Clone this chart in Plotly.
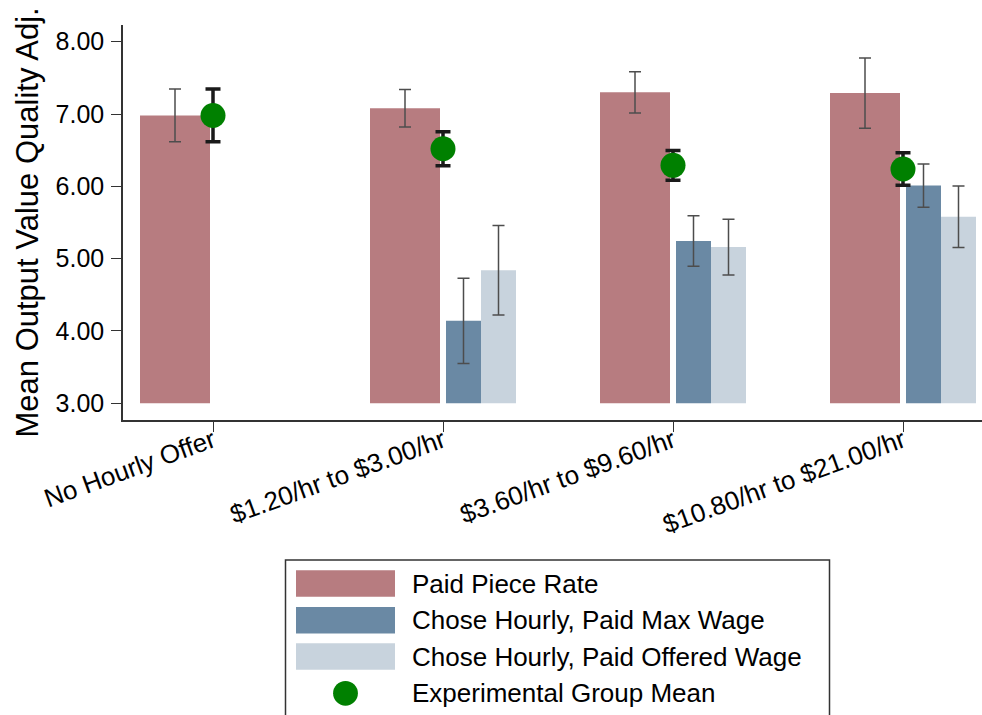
import plotly.graph_objects as go

# ---- data -------------------------------------------------------------
categories = ["No Hourly Offer", "$1.20/hr to $3.00/hr",
              "$3.60/hr to $9.60/hr", "$10.80/hr to $21.00/hr"]

piece_rate = [6.98, 7.08, 7.30, 7.29]
piece_rate_ci = [0.365, 0.26, 0.285, 0.485]

max_wage = [None, 4.14, 5.245, 6.01]
max_wage_ci = [0, 0.59, 0.35, 0.30]

offered_wage = [None, 4.84, 5.16, 5.58]
offered_wage_ci = [0, 0.62, 0.385, 0.425]

group_mean = [6.98, 6.52, 6.29, 6.24]
group_mean_ci = [0.365, 0.235, 0.205, 0.225]

y_ticks = [3, 4, 5, 6, 7, 8]

series_names = ["Paid Piece Rate", "Chose Hourly, Paid Max Wage",
                "Chose Hourly, Paid Offered Wage", "Experimental Group Mean"]

# ---- style ------------------------------------------------------------
C_PIECE = "#b77c80"
C_MAX = "#6a89a4"
C_OFFER = "#c8d3dd"
C_MEAN = "#008000"
FONT = "Liberation Sans, Arial, sans-serif"

W, H = 982, 715
ML, MR, MT, MB = 123, 0, 25, 295
PW, PH = W - ML - MR, H - MT - MB

pos = list(range(len(categories)))

# bar geometry in category units (one category step = 230 px)
STEP = 230.0
piece_w, hour_w = 70 / STEP, 35 / STEP
piece_off = -73 / STEP
max_off = 3 / STEP
offer_off = max_off + hour_w

fig = go.Figure()

bar_err = dict(type="data", thickness=1.5, width=6, color="#4d4d4d")

fig.add_trace(go.Bar(
    x=pos, y=[v - 3 for v in piece_rate], base=3,
    width=piece_w, offset=piece_off, marker=dict(color=C_PIECE, line_width=0),
    error_y=dict(array=piece_rate_ci, **bar_err), name=series_names[0],
    showlegend=False))

fig.add_trace(go.Bar(
    x=pos, y=[None if v is None else v - 3 for v in max_wage], base=3,
    width=hour_w, offset=max_off, marker=dict(color=C_MAX, line_width=0),
    error_y=dict(array=max_wage_ci, **bar_err), name=series_names[1],
    showlegend=False))

fig.add_trace(go.Bar(
    x=pos, y=[None if v is None else v - 3 for v in offered_wage], base=3,
    width=hour_w, offset=offer_off, marker=dict(color=C_OFFER, line_width=0),
    error_y=dict(array=offered_wage_ci, **bar_err), name=series_names[2],
    showlegend=False))

fig.add_trace(go.Scatter(
    x=pos, y=group_mean, mode="markers",
    marker=dict(color=C_MEAN, size=25, line_width=0),
    error_y=dict(type="data", array=group_mean_ci, thickness=3.5, width=7.5,
                 color="#1a1a1a"),
    name=series_names[3], showlegend=False))


# ---- hand-built legend box under the axes ------------------------------
def px_x(px):
    return (px - ML) / PW


def px_y(py):
    return (H - MB - py) / PH


shapes = [dict(type="rect", xref="paper", yref="paper",
               x0=px_x(285.5), x1=px_x(829.5), y0=px_y(730), y1=px_y(560),
               line=dict(color="#333333", width=1.5), fillcolor="white",
               layer="above")]
annotations = []
row_centers = [583.5, 620.3, 656.5, 693.3]
swatch_colors = [C_PIECE, C_MAX, C_OFFER]
for i, name in enumerate(series_names):
    cy = row_centers[i]
    if i < 3:
        shapes.append(dict(type="rect", xref="paper", yref="paper",
                           x0=px_x(296), x1=px_x(395),
                           y0=px_y(cy + 13.3), y1=px_y(cy - 13.3),
                           line_width=0, fillcolor=swatch_colors[i],
                           layer="above"))
    else:
        shapes.append(dict(type="circle", xref="paper", yref="paper",
                           x0=px_x(345.5 - 12.4), x1=px_x(345.5 + 12.4),
                           y0=px_y(cy + 12.4), y1=px_y(cy - 12.4),
                           line_width=0, fillcolor=C_MEAN, layer="above"))
    annotations.append(dict(text=name, xref="paper", yref="paper",
                            x=px_x(410), y=px_y(cy), xanchor="left",
                            yanchor="middle", showarrow=False,
                            font=dict(family=FONT, size=26, color="black")))

# y axis title
annotations.append(dict(text="Mean Output Value Quality Adj.", xref="paper",
                        yref="paper", x=px_x(27), y=0.5, xanchor="center",
                        yanchor="middle", textangle=-90, showarrow=False,
                        font=dict(family=FONT, size=31, color="black")))

fig.update_layout(
    width=W, height=H,
    margin=dict(l=ML, r=MR, t=MT, b=MB, pad=0),
    paper_bgcolor="white", plot_bgcolor="white",
    barmode="overlay",
    font=dict(family=FONT, color="black"),
    shapes=shapes, annotations=annotations,
    xaxis=dict(
        range=[-90 / STEP, 3 + 79 / STEP], tickmode="array",
        tickvals=pos, ticktext=categories, tickangle=-20,
        tickfont=dict(size=26, family=FONT, color="black"),
        ticklabelstandoff=-16,
        ticks="outside", ticklen=10, tickwidth=1.2, tickcolor="#333333",
        showline=True, linecolor="#333333", linewidth=1.5,
        showgrid=False, zeroline=False, fixedrange=True),
    yaxis=dict(
        range=[2.769, 8.231], tickmode="array", tickvals=y_ticks,
        ticktext=[f"{v:.2f}" for v in y_ticks],
        tickfont=dict(size=25, family=FONT, color="black"),
        ticklabelstandoff=2,
        ticks="outside", ticklen=10, tickwidth=1.2, tickcolor="#333333",
        showline=True, linecolor="#333333", linewidth=1.5,
        showgrid=False, zeroline=False, fixedrange=True),
)

fig.write_html("out.html")
